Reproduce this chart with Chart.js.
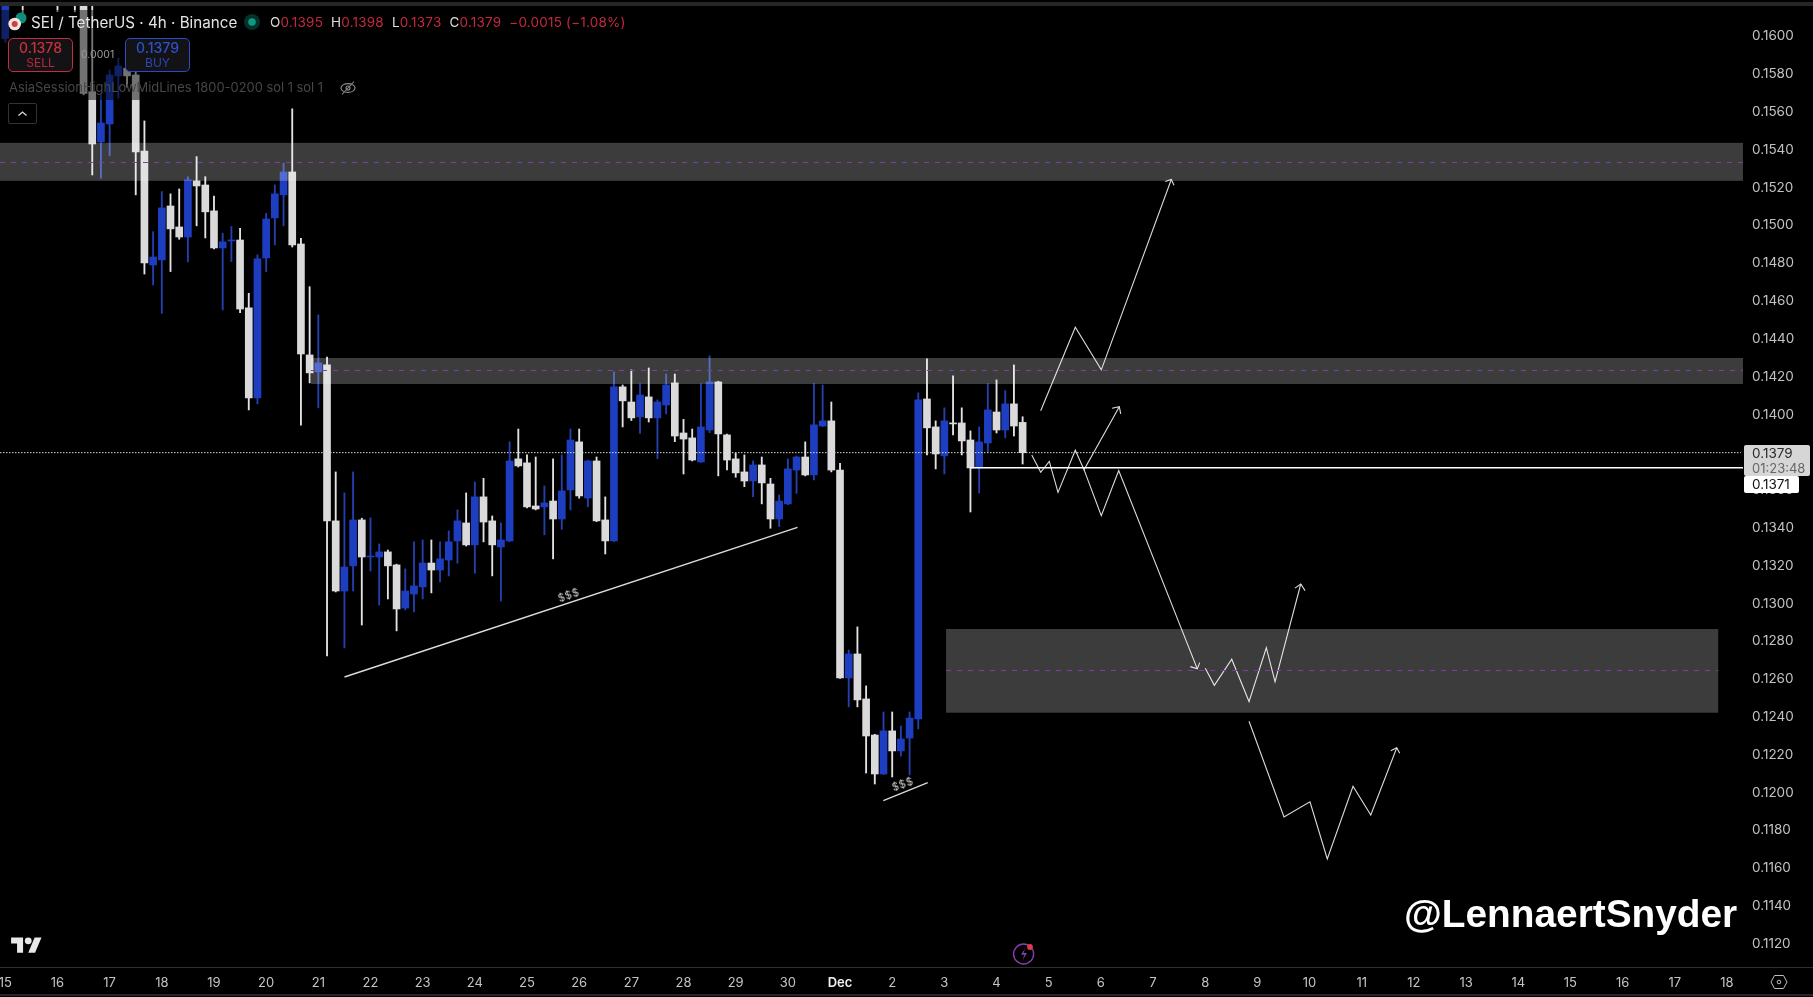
<!DOCTYPE html>
<html>
<head>
<meta charset="utf-8">
<script src="https://cdn.jsdelivr.net/npm/chart.js@4"></script>
<style>
html,body{margin:0;padding:0;background:#000;width:1813px;height:997px;overflow:hidden}
#wrap{position:relative;width:1813px;height:997px;background:#000;font-family:Inter,"Noto Sans",sans-serif}
canvas{position:absolute;left:0;top:0}
.t{position:absolute;white-space:nowrap;line-height:1}
.box{position:absolute;box-sizing:border-box;background:#131316;border-radius:5px;border:1.3px solid}
</style>
</head>
<body>
<div id="wrap">
<canvas id="c" width="1813" height="997"></canvas>

<div style="position:absolute;left:0;top:2px;width:1813px;height:4px;background:#262626"></div>
<div style="position:absolute;left:0;top:967px;width:1813px;height:1px;background:#2f2f2f"></div>
<div style="position:absolute;left:0;top:994px;width:1813px;height:2px;background:#262626"></div>

<svg style="position:absolute;left:0;top:0" width="40" height="40">
  <circle cx="21" cy="18" r="5.5" fill="#0d8f7c"/>
  <circle cx="14.7" cy="24" r="6.3" fill="#f3e3e0"/>
  <circle cx="14.7" cy="24" r="3" fill="#c8433f"/>
</svg>
<div class="t" style="left:31px;top:14.5px;font-size:15.2px;color:#e4e4e4">SEI / TetherUS · 4h · Binance</div>
<svg style="position:absolute;left:242px;top:12px" width="20" height="20">
  <circle cx="10" cy="10" r="8" fill="#06302a"/>
  <circle cx="10" cy="10" r="3.8" fill="#0d9a84"/>
</svg>
<div class="t" style="left:270px;top:15.5px;font-size:13.5px;color:#c4283f;letter-spacing:.2px"><span style="color:#dcdcdc">O</span>0.1395&nbsp; <span style="color:#dcdcdc">H</span>0.1398&nbsp; <span style="color:#dcdcdc">L</span>0.1373&nbsp; <span style="color:#dcdcdc">C</span>0.1379&nbsp; −0.0015 (−1.08%)</div>

<div class="box" style="left:8px;top:38px;width:65px;height:34px;border-color:#c42c42"></div>
<div class="t" style="left:8px;width:65px;text-align:center;top:41px;font-size:14px;font-weight:500;color:#c8303f">0.1378</div>
<div class="t" style="left:8px;width:65px;text-align:center;top:56.5px;font-size:12px;color:#b5293c">SELL</div>
<div class="box" style="left:125px;top:38px;width:65px;height:34px;border-color:#2a4ac8"></div>
<div class="t" style="left:125px;width:65px;text-align:center;top:41px;font-size:14px;font-weight:500;color:#2f50cc">0.1379</div>
<div class="t" style="left:125px;width:65px;text-align:center;top:56.5px;font-size:12px;color:#2a48b8">BUY</div>
<div class="t" style="left:81px;top:50px;font-size:10.5px;color:#9a9a9a">0.0001</div>

<div class="t" style="left:9px;top:82px;font-size:12.9px;color:#474747">AsiaSessionHighLowMidLines 1800-0200 sol 1 sol 1</div>
<svg style="position:absolute;left:339px;top:80px" width="18" height="16" fill="none" stroke="#8a8a8a" stroke-width="1.1">
  <ellipse cx="9" cy="8" rx="7" ry="4.4"/><circle cx="9" cy="8" r="2"/><path d="M15 1.5 3 14.5"/>
</svg>
<div style="position:absolute;left:8px;top:103px;width:29px;height:21px;box-sizing:border-box;border:1px solid #333;border-radius:2px"></div>
<svg style="position:absolute;left:8px;top:103px" width="29" height="21" fill="none" stroke="#d8d8d8" stroke-width="1.3">
  <path d="M10.5 12.5 14.5 9 18.5 12.5"/>
</svg>

<svg style="position:absolute;left:11px;top:933.6px" width="31" height="24" viewBox="0 0 36 28" fill="#e8e8e8">
  <path d="M14 22H7V11H0V4h14v18zM28 22h-8l7.5-18h8L28 22z"/><circle cx="20" cy="8" r="4"/>
</svg>
<svg style="position:absolute;left:1010px;top:940px" width="28" height="28" fill="none">
  <circle cx="13.6" cy="14" r="10" stroke="#8a3dae" stroke-width="1.4"/>
  <path d="M15 8.5 11 14.8h3.4L12.6 20 17 13h-3.4z" fill="#8a3dae"/>
  <circle cx="20" cy="7" r="2.9" fill="#e23a48"/>
</svg>
<svg style="position:absolute;left:1769px;top:973px" width="20" height="18" fill="none" stroke="#bdbdbd" stroke-width="1">
  <path d="M5.5 2.5h9L18 9l-3.5 6.5h-9L2 9z"/><circle cx="10" cy="9" r="1.8"/>
</svg>

<div class="t" style="left:568.6px;top:596px;transform:translate(-50%,-50%) rotate(-19deg);font-size:10.5px;color:#cfcfcf;letter-spacing:.6px">$$$</div>
<div class="t" style="left:903.3px;top:785.3px;transform:translate(-50%,-50%) rotate(-19deg);font-size:10.5px;color:#cfcfcf;letter-spacing:.6px">$$$</div>

<div style="position:absolute;left:1744px;top:445px;width:66px;height:31px;background:#d6d6d6;border-radius:2px"></div>
<div class="t" style="left:1752px;top:446.5px;font-size:13.5px;color:#2a2a2a">0.1379</div>
<div class="t" style="left:1752px;top:461.5px;font-size:13px;color:#666">01:23:48</div>
<div style="position:absolute;left:1744px;top:476px;width:55px;height:17px;background:#fff;border-radius:2px"></div>
<div class="t" style="left:1752px;top:478px;font-size:13.5px;color:#111">0.1371</div>

<div class="t" style="left:1404px;top:895px;font-family:'Liberation Sans',Arial,sans-serif;font-weight:700;font-size:38.8px;color:#fff">@LennaertSnyder</div>
</div>

<script>
// ---- candles (4h bars, index 0 = 15 Nov 00:00) ----
const openPrices = [
.1598,.1652,.1675,.1640,.1655,.1635,.1650,.1630,.1645,.1640,
.15700,.15434,.15529,.15783,.15824,.15788,.15386,.14783,.14810,.15095,
.14984,.14931,.15228,.15206,.15069,.14873,.14910,.14915,.14556,.14079,
.14820,.15032,.15154,.15275,.14894,.14307,.14217,.14254,.13429,.13058,
.13191,.13434,.13238,.13238,.13265,.13196,.12968,.13042,.13080,.13206,
.13169,.13222,.13323,.13418,.13302,.13556,.13429,.13291,.13323,.13757,
.13736,.13508,.13503,.13534,.13439,.13593,.13847,.13550,.13746,.13434,
.13323,.14138,.14058,.13979,.14085,.13974,.14042,.14159,.13894,.13868,
.13741,.13910,.14164,.13884,.13757,.13688,.13640,.13725,.13624,.13439,
.13519,.13698,.13767,.13672,.13931,.13958,.13698,.12598,.12725,.12487,
.12296,.12090,.12318,.12212,.12280,.12381,.14074,.13926,.13773,.13947,
.13947,.13857,.13709,.13841,.14005,.13910,.14048,.1395];
const highPrices = [
.1660,.1675,.1680,.1660,.1662,.1658,.1655,.1650,.1650,.1650,
.1616,.15683,.15815,.15877,.15850,.15806,.15545,.14959,.15171,.15159,
.15185,.15250,.15356,.15250,.15148,.14951,.14986,.14977,.14633,.14836,
.15056,.15206,.15321,.15609,.14924,.14668,.14519,.14295,.13688,.13577,
.13688,.13443,.13445,.13307,.13275,.13200,.13175,.13318,.13328,.13328,
.13318,.13376,.13487,.13577,.13635,.13654,.13455,.13418,.13847,.13915,
.13778,.13767,.13614,.13757,.13778,.13915,.13915,.13750,.13767,.13556,
.14217,.14148,.14228,.14154,.14238,.14069,.14206,.14206,.13966,.13915,
.14154,.14302,.14168,.13888,.13787,.13778,.13746,.13767,.13654,.13566,
.13757,.13772,.13847,.14155,.14148,.14058,.13734,.12746,.12868,.12556,
.12300,.12418,.12418,.12344,.12418,.14106,.14286,.13958,.14027,.14196,
.14027,.13905,.13926,.14155,.14175,.14118,.14254,.1398];
const lowPrices = [
.1596,.1640,.16095,.1625,.1625,.1622,.16123,.1622,.16122,.15683,
.15259,.15242,.15360,.15665,.15723,.15154,.14735,.14677,.14527,.14748,
.14919,.14799,.14990,.14926,.14868,.14545,.14801,.14531,.14016,.14048,
.14748,.14889,.14990,.14878,.13936,.14159,.14027,.12714,.13053,.12757,
.13058,.12878,.13164,.12984,.13016,.12847,.12958,.12947,.13016,.13048,
.13106,.13138,.13205,.13296,.13152,.13318,.13138,.13005,.13319,.13714,
.13497,.13487,.13355,.13228,.13384,.13487,.13549,.13504,.13425,.13254,
.13320,.13926,.13960,.13892,.13952,.13758,.13995,.13848,.13677,.13746,
.13738,.13896,.13667,.13698,.13660,.13610,.13557,.13519,.13390,.13399,
.13515,.13575,.13667,.13646,.13928,.13688,.12595,.12445,.12445,.12095,
.12037,.12087,.12074,.12185,.12085,.12328,.13778,.13704,.13677,.13884,
.13778,.13476,.13577,.13794,.13894,.13868,.13878,.1373];
const closePrices = [
.1652,.1668,.1640,.1655,.1635,.1650,.1630,.1645,.1635,.15691,
.15423,.15534,.15788,.15836,.15783,.15381,.14794,.14825,.15085,.14974,
.14931,.15233,.15201,.15064,.14873,.14905,.14915,.14550,.14079,.14815,
.15026,.15159,.15275,.14889,.14312,.14212,.14265,.13429,.13058,.13185,
.13434,.13238,.13243,.13265,.13191,.12963,.13058,.13085,.13206,.13169,
.13228,.13318,.13429,.13302,.13556,.13423,.13302,.13328,.13746,.13720,
.13503,.13492,.13524,.13439,.13587,.13857,.13561,.13746,.13429,.13323,
.14138,.14064,.13974,.14095,.13974,.14058,.14148,.13878,.13862,.13751,
.13926,.14164,.13889,.13751,.13683,.13640,.13725,.13630,.13439,.13534,
.13704,.13767,.13672,.13937,.13958,.13698,.12598,.12725,.12482,.12291,
.12090,.12318,.12212,.12275,.12386,.14069,.13921,.13783,.13958,.13942,
.13852,.13709,.13847,.14016,.13910,.14048,.13931,.1379];

// ---- axes ----
const dayLabels = ['15','16','17','18','19','20','21','22','23','24','25','26','27','28','29','30','Dec',
                   '2','3','4','5','6','7','8','9','10','11','12','13','14','15','16','17','18'];
const priceTicks = [.160,.158,.156,.154,.152,.150,.148,.146,.144,.142,.140,.138,.136,.134,.132,.130,
                    .128,.126,.124,.122,.120,.118,.116,.114,.112];

// ---- zones: [first bar, last bar, top price, bottom price, mid price] ----
const zoneUpper  = [-0.61, 199.85, .15429, .15228, .15330];
const zoneMiddle = [35.15, 199.85, .14291, .14153, .14225];
const zoneLower  = [108.2, 197.0,  .12857, .12414, .12640];

// ---- horizontal levels: [first bar, last bar, price] ----
const lastPriceLevel = [-0.61, 199.6, .1379];
const supportLevel   = [111, 199.85, .1371];

// ---- hand-drawn paths as bar index / price ----
const pathUpX = [119.08,123.06,126.05,134.10], pathUpY = [.14012,.14453,.14228,.15235];
const headUpX = [133.41,134.10,134.41],        headUpY = [.15224,.15235,.15205];
const pathMidX = [118.05,119.08,120.07,121.07,123.06,124.06,128.12], pathMidY = [.13778,.13686,.13744,.13580,.13803,.13700,.14033];
const headMidX = [127.28,128.12,128.28],       headMidY = [.14025,.14033,.13995];
const pathDownX = [124.06,126.05,128.05,137.09], pathDownY = [.13700,.13457,.13695,.12646];
const headDownX = [136.29,137.09,137.37],      headDownY = [.12658,.12646,.12679];
const pathZoneX = [138.01,139.05,141.05,143.04,145.03,146.03,148.99], pathZoneY = [.12649,.12559,.12697,.12473,.12758,.12577,.13095];
const headZoneX = [148.33,148.99,149.48],      headZoneY = [.13073,.13095,.13060];
const pathLowX = [143.04,147.06,150.05,152.04,155.00,157.04,160.03], pathLowY = [.12369,.11863,.11943,.11640,.12025,.11873,.12229];
const headLowX = [159.34,160.03,160.37],       headLowY = [.12213,.12229,.12200];
const trendRiseX = [39.01,91.11],  trendRiseY = [.12603,.13395];
const trendLowX  = [100.98,106.09], trendLowY = [.11949,.12044];

const UP = '#1e3ec2', DOWN = '#dadada', UPW = '#2440b0', DOWNW = '#e2e2e2';
const isUp = openPrices.map((o,i)=>closePrices[i]>=o);

function pts(xs,ys){ return xs.map((x,i)=>({x,y:ys[i]})); }
function drawn(xs,ys,w){
  return {type:'line',data:pts(xs,ys),borderColor:'#dcdcdc',borderWidth:w||1.1,pointRadius:0,tension:0,order:1,parsing:false};
}
function level(a,color,w,dash){
  return {type:'line',data:[{x:a[0],y:a[2]},{x:a[1],y:a[2]}],borderColor:color,borderWidth:w,borderDash:dash||[],pointRadius:0,order:1,parsing:false};
}

const zonePlugin = {
  id:'zones',
  afterDatasetsDraw(chart){
    const {ctx,scales:{x,y}} = chart;
    ctx.save();
    [zoneUpper,zoneMiddle,zoneLower].forEach(z=>{
      const l=x.getPixelForValue(z[0]), r=x.getPixelForValue(z[1]);
      const t=y.getPixelForValue(z[2]), b=y.getPixelForValue(z[3]), m=y.getPixelForValue(z[4]);
      ctx.fillStyle='rgba(255,255,255,0.235)';
      ctx.fillRect(l,t,r-l,b-t);
      ctx.strokeStyle='#7f3f9f'; ctx.lineWidth=1; ctx.setLineDash([5,6]);
      ctx.beginPath(); ctx.moveTo(l,Math.round(m)+.5); ctx.lineTo(r,Math.round(m)+.5); ctx.stroke();
      ctx.setLineDash([]);
    });
    // legend backdrop dimming the bars behind the header
    ctx.fillStyle='rgba(0,0,0,0.48)';
    ctx.fillRect(0,10,345,90);
    ctx.restore();
  }
};

new Chart(document.getElementById('c'),{
  data:{datasets:[
    {type:'bar',data:openPrices.map((o,i)=>({x:i,y:[o,closePrices[i]]})),parsing:{xAxisKey:'x',yAxisKey:'y'},
     backgroundColor:isUp.map(u=>u?UP:DOWN),barThickness:7,minBarLength:1,grouped:false,order:2,borderWidth:0},
    {type:'bar',data:lowPrices.map((l,i)=>({x:i,y:[l,highPrices[i]]})),parsing:{xAxisKey:'x',yAxisKey:'y'},
     backgroundColor:isUp.map(u=>u?UPW:DOWNW),barThickness:1.2,grouped:false,order:3,borderWidth:0},
    level(lastPriceLevel,'#d8d8d8',1,[1.5,1.5]),
    level(supportLevel,'#ffffff',1.6),
    drawn(pathUpX,pathUpY), drawn(headUpX,headUpY),
    drawn(pathMidX,pathMidY), drawn(headMidX,headMidY),
    drawn(pathDownX,pathDownY), drawn(headDownX,headDownY),
    drawn(pathZoneX,pathZoneY), drawn(headZoneX,headZoneY),
    drawn(pathLowX,pathLowY), drawn(headLowX,headLowY),
    drawn(trendRiseX,trendRiseY,1.4), drawn(trendLowX,trendLowY,1.2)
  ]},
  options:{
    responsive:false,animation:false,devicePixelRatio:1,
    layout:{padding:{top:6,left:0,right:0,bottom:0}},
    plugins:{legend:{display:false},tooltip:{enabled:false}},
    scales:{
      x:{type:'linear',min:-0.61,max:200.08,offset:false,
        grid:{display:false,drawTicks:false},border:{display:false},
        afterBuildTicks(s){ s.ticks = dayLabels.map((_,i)=>({value:i*6})); },
        afterFit(s){ s.height=30; s.paddingLeft=0; s.paddingRight=0; },
        ticks:{autoSkip:false,maxRotation:0,padding:8.5,color(c){return c.tick&&c.tick.value===96?'#f0f0f0':'#c4c4c4';},
          font(c){return {family:'Inter',size:13,weight:(c.tick&&c.tick.value===96)?'600':'400'};},
          callback(v){ return dayLabels[v/6]; }}
      },
      y:{type:'linear',position:'right',min:.110688,max:.16153,
        grid:{display:false,drawTicks:false},border:{display:false},
        afterBuildTicks(s){ s.ticks = priceTicks.map(v=>({value:v})); },
        afterFit(s){ s.width=68; s.paddingTop=0; s.paddingBottom=0; },
        ticks:{padding:7,labelOffset:1.5,color:'#c2c2c2',font:{family:'Inter',size:13.5},callback(v){ return v.toFixed(4); }}
      }
    }
  },
  plugins:[zonePlugin]
});
</script>
</body>
</html>
